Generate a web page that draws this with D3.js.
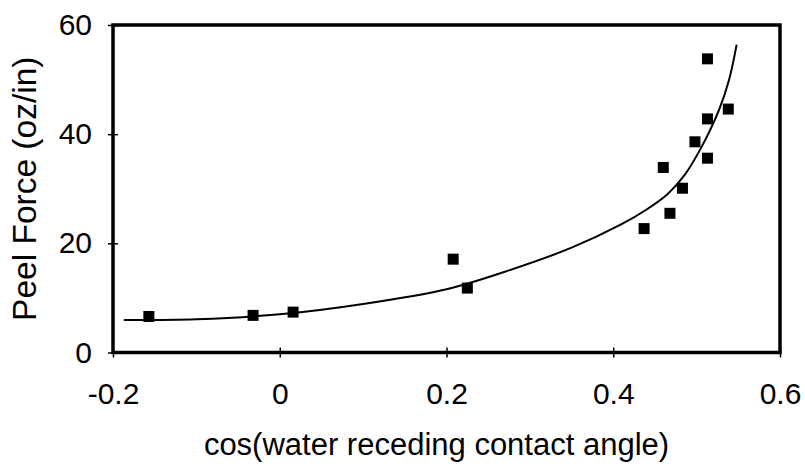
<!DOCTYPE html>
<html>
<head>
<meta charset="utf-8">
<script src="https://cdn.jsdelivr.net/npm/d3@7"></script>
<style>
  body { margin: 0; background: #fff; }
  text { font-family: "Liberation Sans", Arial, sans-serif; fill: #000; }
</style>
</head>
<body>
<div id="chart"></div>
<script>
// measured points (cos of receding angle, peel force oz/in)
var cosAngle = [-0.157, -0.032, 0.016, 0.208, 0.225, 0.437, 0.460, 0.468, 0.483, 0.498, 0.513, 0.513, 0.513, 0.538];
var peelForce = [6.6, 6.8, 7.4, 17.1, 11.8, 22.7, 33.9, 25.5, 30.1, 38.6, 35.6, 42.8, 53.8, 44.6];

// trend line
var fitX = [-0.187, -0.1, 0.0, 0.1, 0.2, 0.27, 0.35, 0.41, 0.44, 0.465, 0.485, 0.505, 0.527, 0.539, 0.548];
var fitY = [5.96, 6.1, 7.0, 8.9, 11.6, 14.8, 19.2, 23.5, 26.2, 29.0, 32.4, 37.4, 44.5, 50.0, 56.4];

var xTicks = [-0.2, 0, 0.2, 0.4, 0.6];
var xTickLabels = ["-0.2", "0", "0.2", "0.4", "0.6"];
var yTicks = [0, 20, 40, 60];

var svgWidth = 805, svgHeight = 467;
var margin = { top: 25, right: 25, bottom: 114.5, left: 113 };
var chartWidth = svgWidth - margin.left - margin.right;
var chartHeight = svgHeight - margin.top - margin.bottom;

var svg = d3.select("#chart").append("svg")
    .attr("width", svgWidth)
    .attr("height", svgHeight);

var chartGroup = svg.append("g")
    .attr("transform", `translate(${margin.left}, ${margin.top})`);

var xScale = d3.scaleLinear().domain([-0.2, 0.6]).range([0, chartWidth]);
var yScale = d3.scaleLinear().domain([0, 60]).range([chartHeight, 0]);

// frame
chartGroup.append("rect")
    .attr("width", chartWidth)
    .attr("height", chartHeight)
    .attr("fill", "none")
    .attr("stroke", "#000")
    .attr("stroke-width", 3.5);

// axes with ticks crossing the frame
var leftAxis = d3.axisLeft(yScale).tickValues(yTicks).tickSize(5).tickPadding(16)
    .tickFormat(d3.format("d"));
var bottomAxis = d3.axisBottom(xScale).tickValues(xTicks).tickSize(5).tickPadding(25)
    .tickFormat((d, i) => xTickLabels[i]);

var yAxisG = chartGroup.append("g").call(leftAxis);
var xAxisG = chartGroup.append("g")
    .attr("transform", `translate(0, ${chartHeight})`)
    .call(bottomAxis);

chartGroup.append("g").call(d3.axisLeft(yScale).tickValues(yTicks).tickSize(-5).tickFormat(""));
chartGroup.append("g")
    .attr("transform", `translate(0, ${chartHeight})`)
    .call(d3.axisBottom(xScale).tickValues(xTicks).tickSize(-5).tickFormat(""));

svg.selectAll(".domain").remove();
svg.selectAll(".tick line").attr("stroke", "#000").attr("stroke-width", 1.5);
[yAxisG, xAxisG].forEach(function(g) {
  g.selectAll("text")
    .style("font-family", "'Liberation Sans', Arial, sans-serif")
    .style("font-size", "30px")
    .attr("fill", "#000");
});

// trend line
var fitData = fitX.map((x, i) => ({ x: x, y: fitY[i] }));
var line = d3.line()
    .x(d => xScale(d.x))
    .y(d => yScale(d.y))
    .curve(d3.curveCatmullRom.alpha(0.5));

chartGroup.append("path")
    .datum(fitData)
    .attr("d", line)
    .attr("fill", "none")
    .attr("stroke", "#000")
    .attr("stroke-width", 2);

// square markers
var pts = cosAngle.map((x, i) => ({ x: x, y: peelForce[i] }));
var sq = 11;
chartGroup.append("g").selectAll("rect")
    .data(pts)
    .enter()
    .append("rect")
    .attr("x", d => xScale(d.x) - sq / 2)
    .attr("y", d => yScale(d.y) - sq / 2)
    .attr("width", sq)
    .attr("height", sq)
    .attr("fill", "#000");

// axis titles
svg.append("text")
    .attr("transform", `translate(36, ${margin.top + chartHeight / 2}) rotate(-90)`)
    .attr("text-anchor", "middle")
    .style("font-size", "33.5px")
    .text("Peel Force (oz/in)");

svg.append("text")
    .attr("x", margin.left + chartWidth / 2 - 10)
    .attr("y", 455)
    .attr("text-anchor", "middle")
    .style("font-size", "31px")
    .text("cos(water receding contact angle)");
</script>
</body>
</html>
